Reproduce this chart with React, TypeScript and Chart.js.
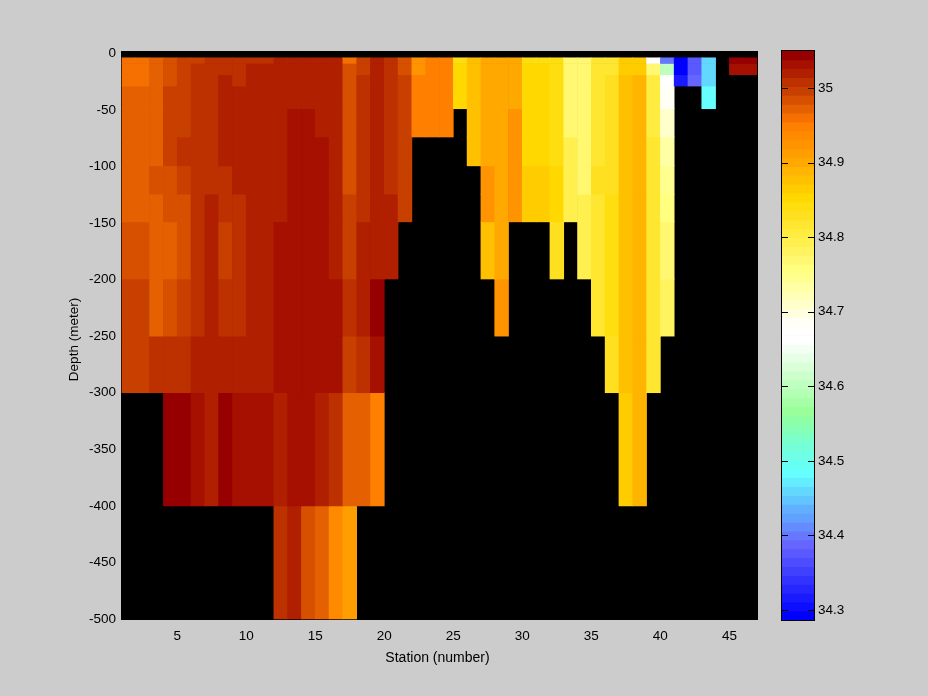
import React, { useEffect, useRef } from "react";
import { Chart, registerables } from "chart.js";

Chart.register(...registerables);

const _ = null;

// Salinity per station (1..46), one list per depth layer
const layer1 = [34.96,34.96,34.97,34.98,35.00,35.00,35.01,35.01,35.01,35.01,35.01,35.02,35.02,35.02,35.02,35.02,34.96,35.00,35.02,35.01,34.98,34.92,34.95,34.95,34.84,34.88,34.90,34.90,34.90,34.84,34.84,34.84,34.77,34.77,34.82,34.82,34.86,34.86,34.67,34.40,34.29,34.38,34.46,_,35.04,35.04];
const layer2 = [34.96,34.96,34.97,34.98,35.00,35.01,35.01,35.01,35.01,35.02,35.02,35.02,35.02,35.02,35.02,35.02,34.98,35.00,35.02,35.01,34.98,34.92,34.95,34.95,34.85,34.88,34.90,34.90,34.90,34.85,34.85,34.84,34.77,34.77,34.82,34.82,34.86,34.86,34.77,34.60,34.29,34.38,34.46,_,35.03,35.03];
const layer3 = [34.96,34.96,34.97,34.98,35.00,35.01,35.01,35.02,35.01,35.02,35.02,35.02,35.02,35.02,35.02,35.02,34.98,35.01,35.02,35.01,35.00,34.95,34.95,34.95,34.85,34.88,34.90,34.90,34.90,34.85,34.85,34.84,34.77,34.77,34.82,34.83,34.88,34.89,34.80,34.67,34.32,34.39,34.46,_,_,_];
const layer4 = [34.97,34.97,34.97,35.00,35.00,35.01,35.01,35.02,35.02,35.02,35.02,35.02,35.02,35.02,35.02,35.02,34.98,35.01,35.02,35.01,35.00,34.95,34.95,34.95,34.85,34.88,34.90,34.90,34.90,34.85,34.85,34.84,34.77,34.77,34.82,34.83,34.88,34.89,34.80,34.69,_,_,34.48,_,_,_];
const layer5 = [34.97,34.97,34.97,35.00,35.00,35.01,35.01,35.02,35.02,35.02,35.02,35.02,35.03,35.03,35.02,35.02,34.98,35.01,35.02,35.01,35.00,34.95,34.95,34.95,_,34.88,34.90,34.90,34.92,34.85,34.85,34.84,34.77,34.77,34.82,34.83,34.88,34.89,34.80,34.71,_,_,_,_,_,_];
const layer6 = [34.97,34.97,34.97,35.00,35.01,35.01,35.01,35.02,35.02,35.02,35.02,35.02,35.03,35.03,35.03,35.02,34.98,35.01,35.02,35.01,35.00,_,_,_,_,34.88,34.90,34.90,34.92,34.85,34.85,34.84,34.79,34.77,34.82,34.83,34.88,34.89,34.82,34.73,_,_,_,_,_,_];
const layer7 = [34.97,34.97,34.98,34.98,35.00,35.01,35.01,35.01,35.02,35.02,35.02,35.02,35.03,35.03,35.03,35.02,34.98,35.01,35.02,35.01,35.00,_,_,_,_,_,34.92,34.90,34.92,34.86,34.86,34.85,34.79,34.77,34.83,34.83,34.88,34.89,34.82,34.75,_,_,_,_,_,_];
const layer8 = [34.97,34.97,34.97,34.98,34.98,35.01,35.02,35.01,35.01,35.02,35.02,35.02,35.03,35.03,35.03,35.02,35.00,35.01,35.02,35.02,35.00,_,_,_,_,_,34.92,34.90,34.92,34.86,34.86,34.85,34.79,34.79,34.82,34.84,34.88,34.89,34.82,34.76,_,_,_,_,_,_];
const layer9 = [34.98,34.98,34.97,34.97,34.98,35.01,35.02,35.00,35.01,35.02,35.02,35.03,35.03,35.03,35.03,35.02,35.00,35.02,35.02,35.02,_,_,_,_,_,_,34.88,34.90,_,_,_,34.83,_,34.79,34.82,34.84,34.88,34.89,34.82,34.77,_,_,_,_,_,_];
const layer10 = [35.00,35.00,34.97,34.98,35.00,35.01,35.02,35.01,35.01,35.02,35.02,35.03,35.03,35.03,35.03,35.03,35.01,35.02,35.04,_,_,_,_,_,_,_,_,34.92,_,_,_,_,_,_,34.82,34.84,34.88,34.89,34.82,34.78,_,_,_,_,_,_];
const layer11 = [35.00,35.00,35.01,35.01,35.01,35.02,35.02,35.02,35.02,35.02,35.02,35.03,35.03,35.03,35.03,35.03,35.00,35.01,35.03,_,_,_,_,_,_,_,_,_,_,_,_,_,_,_,_,34.83,34.88,34.89,34.82,_,_,_,_,_,_,_];
const layer12 = [_,_,_,35.04,35.04,35.03,35.02,35.04,35.03,35.03,35.03,35.02,35.03,35.03,35.02,35.01,34.97,34.97,34.95,_,_,_,_,_,_,_,_,_,_,_,_,_,_,_,_,_,34.86,34.89,_,_,_,_,_,_,_,_];
const layer13 = [_,_,_,_,_,_,_,_,_,_,_,35.01,35.02,34.98,34.97,34.94,34.91,_,_,_,_,_,_,_,_,_,_,_,_,_,_,_,_,_,_,_,_,_,_,_,_,_,_,_,_,_];

const layers = [layer1, layer2, layer3, layer4, layer5, layer6, layer7, layer8, layer9, layer10, layer11, layer12, layer13];
// Depth (m) of the layer edges
const depthEdges = [-4, -9, -19, -29, -49, -74, -99.5, -124.5, -149, -199.5, -250, -300, -400, -500];

const stationTicks = [5, 10, 15, 20, 25, 30, 35, 40, 45];
const depthTicks = [0, -50, -100, -150, -200, -250, -300, -350, -400, -450, -500];
const colorTicks = [34.3, 34.4, 34.5, 34.6, 34.7, 34.8, 34.9, 35];
const colorMin = 34.2866;
const colorMax = 35.0496;

// Colormap from the top of the colour bar downward
const palette = [
  "#960000","#a51000","#b02000","#bd3000","#c84000","#d65000","#e46000","#f57000",
  "#ff8000","#ff8a00","#ff9400","#ff9e00","#ffa800","#ffb400","#ffc000","#ffcc00",
  "#ffd800","#ffde10","#ffe020","#ffe630","#ffec40","#fff050","#fff460","#fff870",
  "#ffff80","#ffff8f","#ffffa3","#ffffb8","#ffffcc","#ffffe0","#fffff5","#ffffff",
  "#ffffff","#f2fff2","#e6ffe6","#d9ffd9","#ccffcc","#bfffbf","#b3ffb3","#a6ffa6",
  "#99ff99","#8fffa5","#85ffb3","#7dffc8","#75ffd9","#6effe6","#66fff2","#66ffff",
  "#64ecff","#62d8ff","#61c5ff","#60b0ff","#62a0ff","#648cff","#6678ff","#6666ff",
  "#5959ff","#4d4dff","#4040ff","#3333ff","#2626ff","#1a1aff","#0d0dff","#0000ff",
];

const colorOf = (v: number) => {
  const i = Math.floor(((colorMax - v) / (colorMax - colorMin)) * palette.length);
  return palette[Math.max(0, Math.min(palette.length - 1, i))];
};

const FONT = "'Liberation Sans', Arial, sans-serif";

export default function App() {
  const mainRef = useRef<HTMLCanvasElement>(null);
  const barRef = useRef<HTMLCanvasElement>(null);

  useEffect(() => {
    const blackBack = {
      id: "blackBack",
      afterLayout(c: any) {
        // nudge the axis-title centring to where the reference has it
        c.scales.y.bottom += 9;
        c.scales.x.left -= 4;
      },
      beforeDatasetsDraw(c: any) {
        const a = c.chartArea;
        c.ctx.save();
        c.ctx.fillStyle = "#000";
        c.ctx.fillRect(a.left - 1, a.top, a.right - a.left + 2, a.bottom - a.top + 1);
        c.ctx.restore();
      },
    };

    const datasets = layers.map((row, k) => {
      const cells = row
        .map((v, i) => ({ v, x: i + 1.5 }))
        .filter((c) => c.v !== null);
      return {
        data: cells.map((c) => ({ x: c.x, y: [depthEdges[k + 1], depthEdges[k]] })),
        backgroundColor: cells.map((c) => colorOf(c.v as number)),
        borderWidth: 0,
        barPercentage: 1,
        categoryPercentage: 1,
        grouped: false,
      };
    });

    const main = new Chart(mainRef.current!, {
      type: "bar",
      data: { datasets: datasets as any },
      plugins: [blackBack],
      options: {
        animation: false,
        responsive: false,
        devicePixelRatio: 1,
        layout: { padding: { top: 51, right: 171, bottom: 0, left: 0 } },
        plugins: { legend: { display: false }, tooltip: { enabled: false } },
        scales: {
          x: {
            type: "linear",
            offset: false,
            min: 1,
            max: 47,
            afterBuildTicks: (s: any) => { s.ticks = stationTicks.map((value) => ({ value })); },
            afterFit: (s: any) => { s.height = 77; },
            grid: { display: false, drawTicks: false },
            border: { display: false },
            ticks: { color: "#000", font: { family: FONT, size: 13.5 }, padding: 9, autoSkip: false, maxRotation: 0, callback: (v: any) => String(v) },
            title: { display: true, text: "Station (number)", color: "#000", font: { family: FONT, size: 14 }, padding: { top: 0, bottom: 29 } },
          },
          y: {
            type: "linear",
            min: -500,
            max: 2,
            afterBuildTicks: (s: any) => { s.ticks = depthTicks.map((value) => ({ value })); },
            afterFit: (s: any) => { s.width = 122; },
            grid: { display: false, drawTicks: false },
            border: { display: false },
            ticks: { color: "#000", font: { family: FONT, size: 13.5 }, padding: 6, autoSkip: false, callback: (v: any) => String(v) },
            title: { display: true, text: "Depth (meter)", color: "#000", font: { family: FONT, size: 13.5 }, padding: { top: 66, bottom: 0 } },
          },
        },
      },
    } as any);

    const barFrame = {
      id: "barFrame",
      afterDatasetsDraw(c: any) {
        const a = c.chartArea;
        const ctx = c.ctx;
        ctx.save();
        ctx.strokeStyle = "#000";
        ctx.lineWidth = 1;
        ctx.beginPath();
        colorTicks.forEach((t) => {
          const y = Math.round(c.scales.y.getPixelForValue(t)) + 0.5;
          ctx.moveTo(a.left, y);
          ctx.lineTo(a.left + 6, y);
          ctx.moveTo(a.right - 6, y);
          ctx.lineTo(a.right, y);
        });
        ctx.stroke();
        ctx.strokeRect(a.left - 0.5, a.top - 0.5, a.right - a.left + 1, a.bottom - a.top + 1);
        ctx.restore();
      },
    };

    const step = (colorMax - colorMin) / palette.length;
    const cbar = new Chart(barRef.current!, {
      type: "bar",
      data: {
        labels: ["c"],
        datasets: palette.map((color, i) => ({
          data: [[colorMax - (i + 1) * step, colorMax - i * step]],
          backgroundColor: color,
          borderWidth: 0,
          barPercentage: 1,
          categoryPercentage: 1,
          grouped: false,
        })) as any,
      },
      plugins: [barFrame],
      options: {
        animation: false,
        responsive: false,
        devicePixelRatio: 1,
        layout: { padding: { top: 51, right: 0, bottom: 76, left: 782 } },
        plugins: { legend: { display: false }, tooltip: { enabled: false } },
        scales: {
          x: { display: false, grid: { display: false } },
          y: {
            position: "right",
            min: colorMin,
            max: colorMax,
            afterBuildTicks: (s: any) => { s.ticks = colorTicks.map((value) => ({ value })); },
            afterFit: (s: any) => { s.width = 114; },
            grid: { display: false, drawTicks: false },
            border: { display: false },
            ticks: { color: "#000", font: { family: FONT, size: 13.5 }, padding: 4, autoSkip: false, callback: (v: any) => String(Math.round(v * 10) / 10) },
          },
        },
      },
    } as any);

    return () => {
      main.destroy();
      cbar.destroy();
    };
  }, []);

  const abs: React.CSSProperties = { position: "absolute", left: 0, top: 0, width: 928, height: 696, display: "block" };
  return (
    <div style={{ position: "fixed", left: 0, top: 0, width: 928, height: 696, background: "#cccccc", overflow: "hidden" }}>
      <canvas ref={mainRef} width={928} height={696} style={abs} />
      <canvas ref={barRef} width={928} height={696} style={abs} />
    </div>
  );
}
